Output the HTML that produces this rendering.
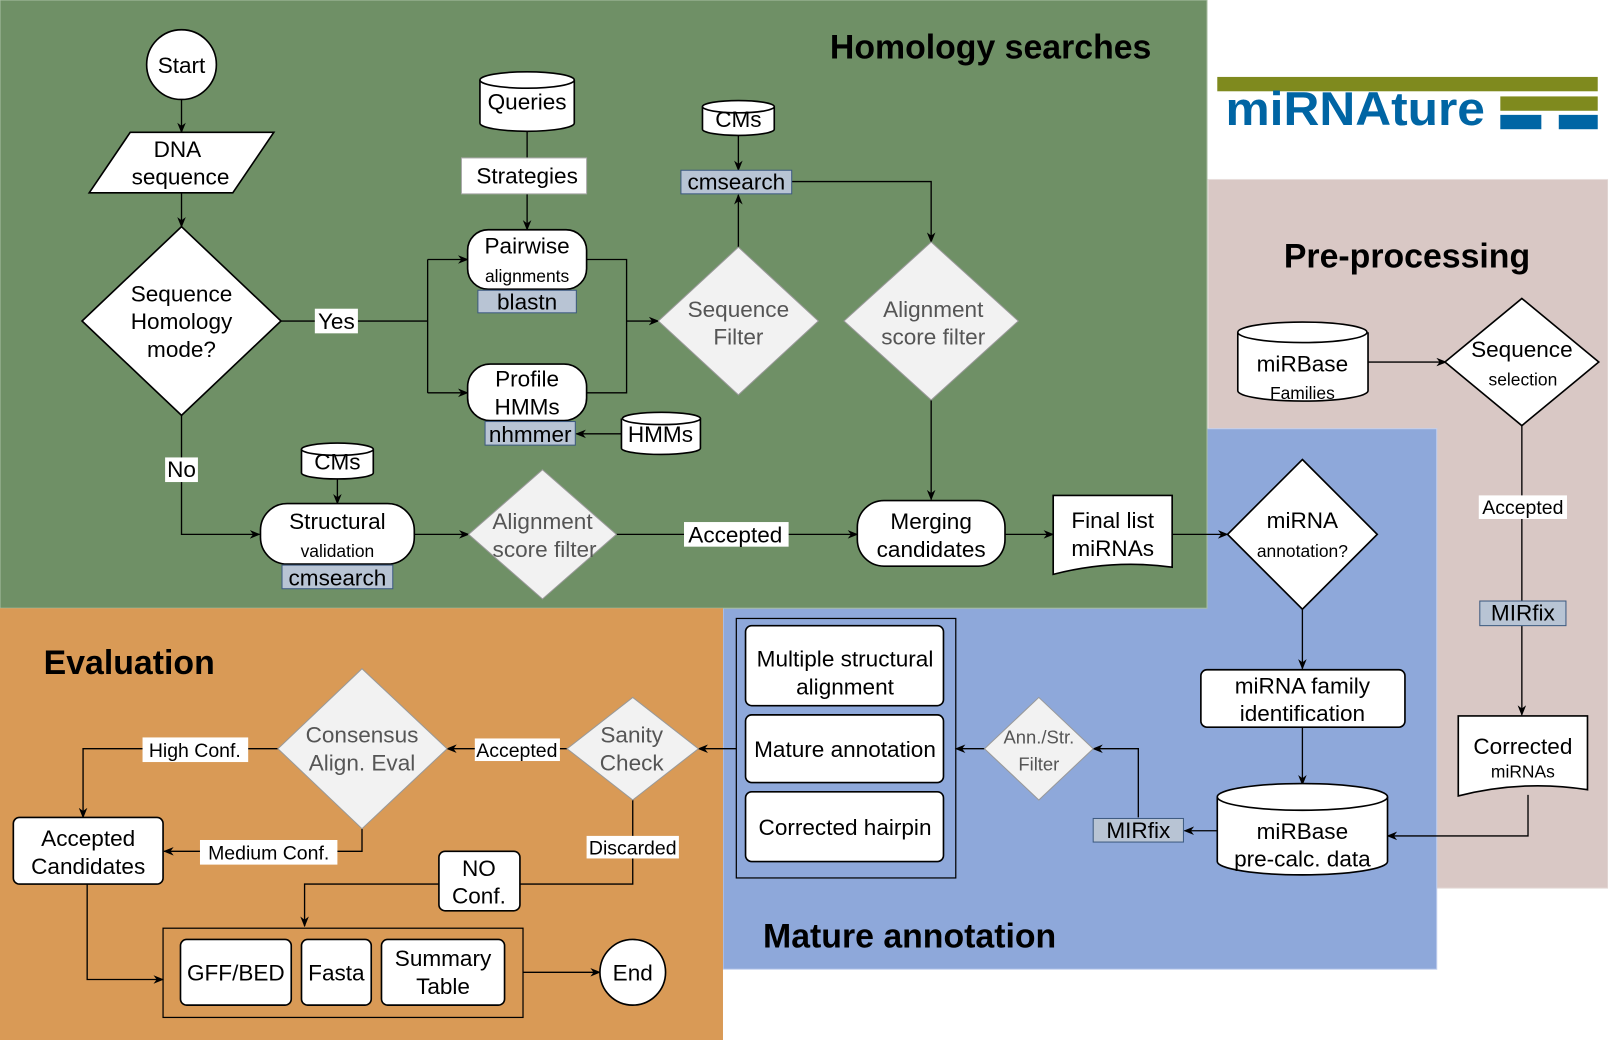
<!DOCTYPE html>
<html><head><meta charset="utf-8"><style>
html,body{margin:0;padding:0;background:#fff}
svg{display:block}
text{font-family:"Liberation Sans",Arial,sans-serif;text-anchor:middle}
</style></head><body>
<svg width="1608" height="1040" viewBox="0 0 1568 1014" preserveAspectRatio="none" xmlns="http://www.w3.org/2000/svg">
<defs>
<marker id="a" viewBox="0 0 10 10" refX="9" refY="5" markerWidth="8" markerHeight="8" orient="auto"><path d="M0,1 L10,5 L0,9 L3,5 z" fill="#000"/></marker>
</defs>
<rect x="1178" y="175" width="390" height="691" fill="#d9c8c5" stroke="#e8dedc"/>
<rect x="705" y="418" width="696" height="527" fill="#8ea8da" stroke="#c2d0ee"/>
<rect x="0" y="0" width="1177" height="593" fill="#6f9066" stroke="#a9bfa3"/>
<rect x="0" y="593" width="705" height="421" fill="#d99a56"/>
<rect x="1187" y="75" width="371" height="14" fill="#7f8a1e"/>
<text x="1195" y="122" textLength="253" lengthAdjust="spacingAndGlyphs" style="font-size:46px;font-weight:bold;fill:#0065a4;text-anchor:start">miRNAture</text>
<rect x="1463" y="94" width="95" height="14" fill="#7f8a1e"/>
<rect x="1463" y="112" width="40" height="14" fill="#0065a4"/>
<rect x="1520" y="112" width="38" height="14" fill="#0065a4"/>
<g style="font-weight:bold;font-size:33px">
<text x="966" y="57">Homology searches</text>
<text x="1372" y="261">Pre-processing</text>
<text x="126" y="657" >Evaluation</text>
<text x="887" y="924">Mature annotation</text>
</g>
<g stroke="#000" stroke-width="1.3" fill="none">
<path d="M177,97 V129" marker-end="url(#a)"/>
<path d="M177,188 V221" marker-end="url(#a)"/>
<path d="M274,313 H417 M417,253 V383"/>
<path d="M417,253 H456" marker-end="url(#a)"/>
<path d="M417,383 H456" marker-end="url(#a)"/>
<path d="M514,126 V154 M514,189 V224" marker-end="url(#a)"/>
<path d="M572,253 H611 V383 H572 M611,313 H642" marker-end="url(#a)"/>
<path d="M606,423 H562" marker-end="url(#a)"/>
<path d="M720,241 V190" marker-end="url(#a)"/>
<path d="M720,131 V166" marker-end="url(#a)"/>
<path d="M772,177 H908 V236" marker-end="url(#a)"/>
<path d="M908,390 V487" marker-end="url(#a)"/>
<path d="M177,405 V521 H253" marker-end="url(#a)"/>
<path d="M329,466 V491" marker-end="url(#a)"/>
<path d="M404,521 H457" marker-end="url(#a)"/>
<path d="M601,521 H836" marker-end="url(#a)"/>
<path d="M980,521 H1027" marker-end="url(#a)"/>
<path d="M1143,521 H1197" marker-end="url(#a)"/>
<path d="M1270,594 V652" marker-end="url(#a)"/>
<path d="M1270,709 V765" marker-end="url(#a)"/>
<path d="M1187,810 H1155" marker-end="url(#a)"/>
<path d="M1110,797 V730 H1066" marker-end="url(#a)"/>
<path d="M960,730 H932" marker-end="url(#a)"/>
<path d="M718,730 H681" marker-end="url(#a)"/>
<path d="M553,730 H436" marker-end="url(#a)"/>
<path d="M271,730 H81 V797" marker-end="url(#a)"/>
<path d="M353,808 V830 H160" marker-end="url(#a)"/>
<path d="M617,780 V862 H297 V903" marker-end="url(#a)"/>
<path d="M85,862 V955 H159" marker-end="url(#a)"/>
<path d="M510,948 H585" marker-end="url(#a)"/>
<path d="M1334,353 H1410" marker-end="url(#a)"/>
<path d="M1484,415 V697" marker-end="url(#a)"/>
<path d="M1490,775 V815 H1353" marker-end="url(#a)"/>
</g>
<g stroke="#000" stroke-width="1.6" fill="#fff">
<circle cx="177" cy="63" r="34"/>
<polygon points="87,188 127,129 267,129 227,188"/>
<polygon points="177,221 274,313 177,405 80,313"/>
<rect x="456" y="224" width="116" height="58" rx="20"/>
<rect x="456" y="355" width="116" height="55" rx="22"/>
<rect x="450" y="154" width="122" height="35" stroke="#aaa" stroke-width="1"/>
<rect x="254" y="491" width="150" height="59" rx="26"/>
<rect x="836" y="488" width="144" height="64" rx="26"/>
<path d="M1027,483 H1143 V553 Q1085,545 1027,560 Z"/>
<polygon points="1270,448 1343,521 1270,594 1197,521"/>
<rect x="1171" y="653" width="199" height="56" rx="6"/>
<rect x="718" y="603" width="214" height="253" fill="none" stroke-width="1.2"/>
<rect x="727" y="610" width="193" height="78" rx="6"/>
<rect x="727" y="697" width="193" height="66" rx="6"/>
<rect x="727" y="772" width="193" height="68" rx="6"/>
<rect x="13" y="797" width="146" height="65" rx="6"/>
<rect x="428" y="830" width="79" height="58" rx="6"/>
<rect x="159" y="905" width="351" height="87" fill="none" stroke-width="1.2"/>
<rect x="176" y="916" width="108" height="64" rx="6"/>
<rect x="294" y="916" width="68" height="64" rx="6"/>
<rect x="372" y="916" width="120" height="64" rx="6"/>
<circle cx="617" cy="948" r="32"/>
<polygon points="1484,291 1559,353 1484,415 1409,353"/>
<path d="M1422,698 H1548 V770 Q1485,760 1422,776 Z"/>
<path d="M468,78 V120 A46,8 0 0 0 560,120 V78"/><ellipse cx="514" cy="78" rx="46" ry="8"/>
<path d="M685,104 V126 A35,6 0 0 0 755,126 V104"/><ellipse cx="720" cy="104" rx="35" ry="6"/>
<path d="M294,438 V461 A35,6 0 0 0 364,461 V438"/><ellipse cx="329" cy="438" rx="35" ry="6"/>
<path d="M606,408 V437 A38,6 0 0 0 683,437 V408"/><ellipse cx="645" cy="408" rx="38" ry="6"/>
<path d="M1207,324 V381 A63,10 0 0 0 1334,381 V324"/><ellipse cx="1270" cy="324" rx="63" ry="10"/>
<path d="M1187,777 V840 A83,13 0 0 0 1353,840 V777"/><ellipse cx="1270" cy="777" rx="83" ry="13"/>
</g>
<g fill="#f2f2f2" stroke="#999" stroke-width="1">
<polygon points="720,241 798,313 720,385 642,313"/>
<polygon points="908,236 993,313 908,390 823,313"/>
<polygon points="529,458 601,521 529,584 457,521"/>
<polygon points="1013,680 1066,730 1013,780 960,730"/>
<polygon points="617,680 681,730 617,780 553,730"/>
<polygon points="353,652 436,730 353,808 271,730"/>
</g>
<g fill="#b8c4d4" stroke="#3d5a80" stroke-width="1">
<rect x="466" y="283" width="96" height="22"/>
<rect x="473" y="411" width="88" height="23"/>
<rect x="664" y="166" width="108" height="23"/>
<rect x="275" y="551" width="108" height="23"/>
<rect x="1066" y="798" width="88" height="23"/>
<rect x="1443" y="586" width="84" height="24"/>
</g>
<g fill="#fff">
<rect x="307" y="301" width="42" height="24"/>
<rect x="161" y="446" width="32" height="24"/>
<rect x="667" y="509" width="102" height="24"/>
<rect x="1442" y="483" width="86" height="23"/>
<rect x="463" y="720" width="83" height="22"/>
<rect x="139" y="719" width="103" height="24"/>
<rect x="195" y="819" width="134" height="24"/>
<rect x="572" y="815" width="90" height="22"/>
</g>
<g style="font-size:22px" fill="#000">
<text x="177" y="71">Start</text>
<text x="173" y="153">DNA</text><text x="176" y="180">sequence</text>
<text x="177" y="294">Sequence</text><text x="177" y="321">Homology</text><text x="177" y="348">mode?</text>
<text x="328" y="321">Yes</text>
<text x="177" y="465">No</text>
<text x="514" y="107">Queries</text>
<text x="514" y="179">Strategies</text>
<text x="514" y="247">Pairwise</text>
<text x="514" y="302">blastn</text>
<text x="514" y="377">Profile</text><text x="514" y="404">HMMs</text>
<text x="517" y="431">nhmmer</text>
<text x="644" y="431">HMMs</text>
<text x="720" y="124">CMs</text>
<text x="718" y="185">cmsearch</text>
<text x="329" y="458">CMs</text>
<text x="329" y="516">Structural</text>
<text x="329" y="571">cmsearch</text>
<text x="717" y="529">Accepted</text>
<text x="908" y="516">Merging</text><text x="908" y="543">candidates</text>
<text x="1085" y="515">Final list</text><text x="1085" y="542">miRNAs</text>
<text x="1270" y="515">miRNA</text>
<text x="1270" y="676">miRNA family</text><text x="1270" y="703">identification</text>
<text x="1270" y="818">miRBase</text><text x="1270" y="845">pre-calc. data</text>
<text x="1110" y="817">MIRfix</text>
<text x="824" y="650">Multiple structural</text><text x="824" y="677">alignment</text>
<text x="824" y="738">Mature annotation</text>
<text x="824" y="814">Corrected hairpin</text>
<text x="86" y="825">Accepted</text><text x="86" y="852">Candidates</text>
<text x="467" y="854">NO</text><text x="467" y="881">Conf.</text>
<text x="230" y="956">GFF/BED</text>
<text x="328" y="956">Fasta</text>
<text x="432" y="942">Summary</text><text x="432" y="969">Table</text>
<text x="617" y="956">End</text>
<text x="1270" y="362">miRBase</text>
<text x="1484" y="348">Sequence</text>
<text x="1485" y="605">MIRfix</text>
<text x="1485" y="735">Corrected</text>
</g>
<g style="font-size:22px" fill="#555">
<text x="720" y="309">Sequence</text><text x="720" y="336">Filter</text>
<text x="910" y="309">Alignment</text><text x="910" y="336">score filter</text>
<text x="529" y="516">Alignment</text><text x="531" y="543">score filter</text>
<text x="616" y="724">Sanity</text><text x="616" y="751">Check</text>
<text x="353" y="724">Consensus</text><text x="353" y="751">Align. Eval</text>
</g>
<g style="font-size:18px" fill="#555">
<text x="1013" y="725">Ann./Str.</text><text x="1013" y="751">Filter</text>
</g>
<g style="font-size:17px" fill="#000">
<text x="514" y="275">alignments</text>
<text x="329" y="543">validation</text>
<text x="1270" y="543">annotation?</text>
<text x="1270" y="389">Families</text>
<text x="1485" y="376">selection</text>
<text x="1485" y="758">miRNAs</text>
</g>
<g style="font-size:19px" fill="#000">
<text x="1485" y="501">Accepted</text>
<text x="504" y="738">Accepted</text>
<text x="190" y="738">High Conf.</text>
<text x="262" y="838">Medium Conf.</text>
<text x="617" y="833">Discarded</text>
</g>
</svg>
</body></html>
